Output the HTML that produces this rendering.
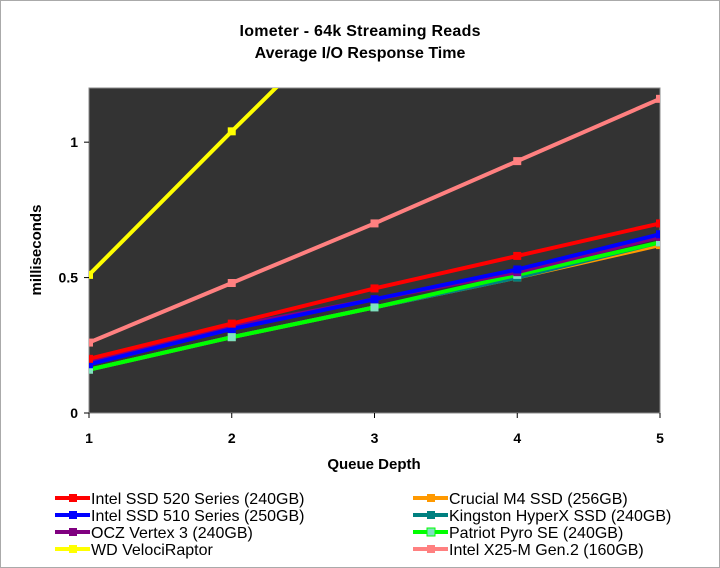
<!DOCTYPE html>
<html><head><meta charset="utf-8"><style>
body{margin:0;background:#fff;}
svg{display:block;font-family:"Liberation Sans",Arial,sans-serif;}
</style></head><body>
<svg id="c" width="720" height="568">
<rect x="0.5" y="0.5" width="719" height="567" fill="#fff" stroke="#aaa"/>
<text x="360" y="36" text-anchor="middle" font-size="16" font-weight="bold" fill="#000" textLength="241">Iometer - 64k Streaming Reads</text>
<text x="360" y="58" text-anchor="middle" font-size="16" font-weight="bold" fill="#000">Average I/O Response Time</text>
<defs><clipPath id="clip"><rect x="89" y="88" width="571" height="325"/></clipPath></defs>
<rect x="89" y="88" width="571" height="325" fill="#333" stroke="#888"/>
<g id="axes"></g>
<g id="series" clip-path="url(#clip)"></g>
<text x="374" y="469" text-anchor="middle" font-size="15" font-weight="bold">Queue Depth</text>
<text transform="translate(41,250) rotate(-90)" text-anchor="middle" font-size="15" font-weight="bold">milliseconds</text>
<g id="legend"></g>
</svg>
<script>
const categories=[1,2,3,4,5];
const yTicks=[0,0.5,1];
const names=["Intel SSD 520 Series (240GB)","Intel SSD 510 Series (250GB)","OCZ Vertex 3 (240GB)","WD VelociRaptor","Crucial M4 SSD (256GB)","Kingston HyperX SSD (240GB)","Patriot Pyro SE (240GB)","Intel X25-M Gen.2 (160GB)"];
const colors=["#ff0000","#0000ff","#800080","#ffff00","#ff9900","#008080","#00ff00","#ff8080"];
const intel520=[0.20,0.33,0.46,0.58,0.70];
const intel510=[0.18,0.31,0.42,0.53,0.66];
const ocz=[0.19,0.32,0.42,0.52,0.65];
const wd=[0.51,1.04,1.56,2.08,2.60];
const crucial=[0.16,0.28,0.39,0.50,0.62];
const kingston=[0.16,0.28,0.39,0.50,0.63];
const patriot=[0.16,0.28,0.39,0.51,0.63];
const x25=[0.26,0.48,0.70,0.93,1.16];
const seriesData=[intel520,intel510,ocz,wd,crucial,kingston,patriot,x25];
const NS="http://www.w3.org/2000/svg";
const xS=v=>89+(v-1)*(571/4);
const yS=v=>413-v*(325/1.2);
function mk(t,a,p){const e=document.createElementNS(NS,t);for(const k in a)e.setAttribute(k,a[k]);p.appendChild(e);return e;}
const axes=document.getElementById('axes');
yTicks.forEach(t=>{
 const l=mk('line',{x1:84,x2:89,y1:yS(t),y2:yS(t),stroke:'#000'},axes);
 
 
 const tx=mk('text',{x:78,y:yS(t)+5,'text-anchor':'end','font-size':14,'font-weight':'bold'},axes);tx.textContent=t;
 
 
});
categories.forEach(c=>{
 const l=mk('line',{x1:xS(c),x2:xS(c),y1:413,y2:418,stroke:'#000'},axes);
 
 
 const tx=mk('text',{x:xS(c),y:443,'text-anchor':'middle','font-size':14,'font-weight':'bold'},axes);tx.textContent=c;
 
 
});
const sg=document.getElementById('series');
const order=[3,7,4,5,6,2,1,0];
order.forEach(i=>{
 const g=mk('g',{},sg);
 
 
 const pts=seriesData[i].map((v,j)=>xS(categories[j])+','+yS(v)).join(' ');
 const pl=mk('polyline',{points:pts,fill:'none',stroke:colors[i],'stroke-width':4},g);
 
 
 seriesData[i].forEach((v,j)=>{
  const r=mk('rect',{x:xS(categories[j])-4,y:yS(v)-4,width:8,height:8,fill:i==6?'#80e0c0':colors[i]},g);
  
  
 });
});
const lg=document.getElementById('legend');
names.forEach((n,i)=>{
 const col=Math.floor(i/4),row=i%4;
 const x0=col?413:55,y=498+row*17;
 const g=mk('g',{},lg);
 
 
 mk('line',{x1:x0,x2:x0+35,y1:y,y2:y,stroke:colors[i],'stroke-width':4},g);
 mk('rect',{x:x0+14,y:y-4,width:8,height:8,fill:i==6?'#80e0c0':colors[i],stroke:i==6?colors[i]:'none'},g);
 const t=mk('text',{x:x0+36,y:y+6,'font-size':16},g);t.textContent=n;
});
</script>
</body></html>
